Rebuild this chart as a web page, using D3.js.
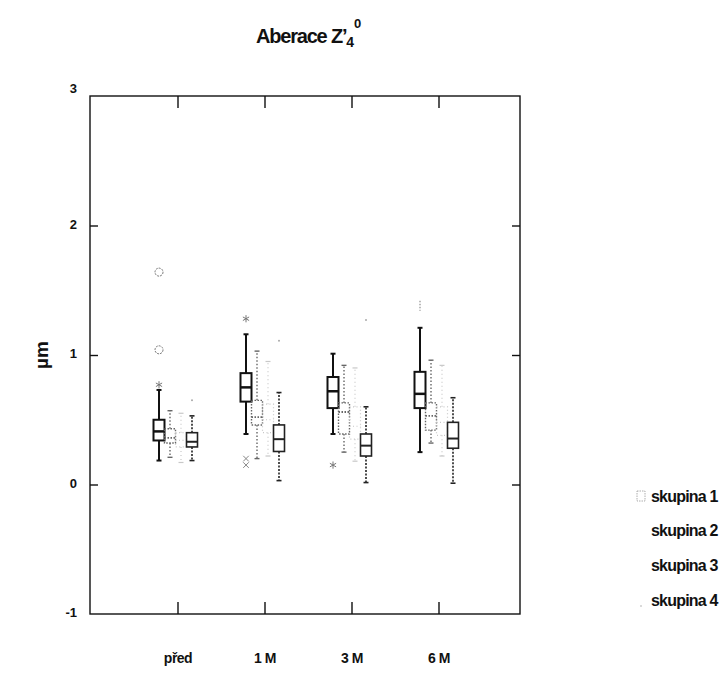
<!DOCTYPE html>
<html>
<head>
<meta charset="utf-8">
<script src="https://cdn.jsdelivr.net/npm/d3@7"></script>
<style>
  html, body { margin: 0; padding: 0; background: #fff; }
  svg { display: block; font-family: "Liberation Sans", Arial, sans-serif; }
</style>
</head>
<body>
<svg id="chart" width="724" height="674"></svg>
<script>
// ---- data ----
const categories = ["před", "1 M", "3 M", "6 M"];
const groups = ["skupina 1", "skupina 2", "skupina 3", "skupina 4"];
const yTicks = [-1, 0, 1, 2, 3];
// [whisker low, Q1, median, Q3, whisker high] per category
const skupina1 = [[0.185, 0.34, 0.41, 0.50, 0.73], [0.39, 0.64, 0.75, 0.86, 1.16], [0.39, 0.59, 0.72, 0.83, 1.01], [0.25, 0.59, 0.70, 0.87, 1.21]];
const skupina2 = [[0.21, 0.32, 0.36, 0.43, 0.57], [0.20, 0.46, 0.52, 0.65, 1.03], [0.25, 0.39, 0.56, 0.63, 0.92], [0.32, 0.42, 0.53, 0.63, 0.96]];
const skupina3 = [[0.17, 0.29, 0.34, 0.40, 0.55], [0.22, 0.40, 0.50, 0.62, 0.95], [0.18, 0.35, 0.45, 0.60, 0.90], [0.22, 0.38, 0.48, 0.60, 0.92]];
const skupina4 = [[0.185, 0.29, 0.33, 0.40, 0.53], [0.03, 0.255, 0.35, 0.46, 0.71], [0.015, 0.22, 0.30, 0.39, 0.60], [0.01, 0.28, 0.355, 0.48, 0.67]];
// outliers: [category index, value, marker]
const outliers1 = [[0, 1.64, "o"], [0, 1.04, "o"], [0, 0.77, "*"], [1, 1.28, "*"], [1, 0.20, "x"], [1, 0.15, "x"], [2, 0.15, "*"], [3, 1.38, "|"]];
const outliers4 = [[0, 0.65, "."], [1, 1.11, "."], [2, 1.27, "."]];

const series = [skupina1, skupina2, skupina3, skupina4];
const outlierSets = [outliers1, [], [], outliers4];
const styles = [
  { stroke: "#111", width: 2, dash: null, wdash: null, med: 2.5 },
  { stroke: "#666", width: 1.4, dash: "1.5,1.5", wdash: "1.5,2", med: 1.8 },
  { stroke: "#c8c8c8", width: 1.2, dash: "1,2.5", wdash: "1,3", med: 1.2 },
  { stroke: "#222", width: 1.6, dash: null, wdash: "2,1.5", med: 2 }
];

// ---- layout ----
const svg = d3.select("#chart");
const L = 90, R = 520, T = 96, B = 614;

const y = d3.scaleLinear().domain([-1, 3]).range([B, T]);
const x = d3.scaleBand().domain(categories).range([134.5, 482.5]).padding(0);
const xg = d3.scaleBand().domain(groups).range([-24.5, 19.5]).padding(0);
const bw = xg.bandwidth();

// frame
svg.append("rect").attr("x", L).attr("y", T).attr("width", R - L).attr("height", B - T)
  .attr("fill", "none").attr("stroke", "#111").attr("stroke-width", 1.4);

// y axis left (ticks inward)
const yAxisL = svg.append("g").attr("transform", `translate(${L},0)`)
  .call(d3.axisLeft(y).tickValues(yTicks).tickSize(-8).tickPadding(13).tickFormat(d => String(d)));
yAxisL.select(".domain").remove();
yAxisL.selectAll(".tick line").attr("stroke", "#111").attr("stroke-width", 1.4)
  .filter(d => d === -1 || d === 3).remove();
yAxisL.selectAll(".tick text").attr("font-size", 13).attr("font-weight", "bold").attr("fill", "#111")
  .attr("dy", d => d === 3 ? "-0.3em" : "0.2em");

const yAxisR = svg.append("g").attr("transform", `translate(${R},0)`)
  .call(d3.axisRight(y).tickValues(yTicks).tickSize(-8).tickFormat(""));
yAxisR.select(".domain").remove();
yAxisR.selectAll(".tick line").attr("stroke", "#111").attr("stroke-width", 1.4)
  .filter(d => d === -1 || d === 3).remove();

// x axis bottom/top (ticks inward)
const xAxisB = svg.append("g").attr("transform", `translate(0,${B})`)
  .call(d3.axisBottom(x).tickSize(-12).tickPadding(39));
xAxisB.select(".domain").remove();
xAxisB.selectAll(".tick line").attr("stroke", "#111").attr("stroke-width", 1.4);
xAxisB.selectAll(".tick text").attr("font-size", 14).attr("font-weight", "bold").attr("fill", "#111")
  .attr("letter-spacing", "-0.5");

const xAxisT = svg.append("g").attr("transform", `translate(0,${T})`)
  .call(d3.axisTop(x).tickSize(-12).tickFormat(""));
xAxisT.select(".domain").remove();
xAxisT.selectAll(".tick line").attr("stroke", "#111").attr("stroke-width", 1.4);

// boxes
series.forEach((data, gi) => {
  const st = styles[gi];
  const g = svg.append("g");
  data.forEach((q, ci) => {
    const cx = x(categories[ci]) + x.bandwidth() / 2 + xg(groups[gi]) + bw / 2;
    const x0 = cx - bw / 2;
    g.append("line").attr("x1", cx).attr("x2", cx).attr("y1", y(q[3])).attr("y2", y(q[4]))
      .attr("stroke", st.stroke).attr("stroke-width", st.width).attr("stroke-dasharray", st.wdash);
    g.append("line").attr("x1", cx).attr("x2", cx).attr("y1", y(q[1])).attr("y2", y(q[0]))
      .attr("stroke", st.stroke).attr("stroke-width", st.width).attr("stroke-dasharray", st.wdash);
    [q[0], q[4]].forEach(v => {
      g.append("line").attr("x1", cx - 2.5).attr("x2", cx + 2.5).attr("y1", y(v)).attr("y2", y(v))
        .attr("stroke", st.stroke).attr("stroke-width", st.width);
    });
    g.append("rect").attr("x", x0).attr("y", y(q[3])).attr("width", bw).attr("height", y(q[1]) - y(q[3]))
      .attr("fill", "none").attr("stroke", st.stroke).attr("stroke-width", st.width)
      .attr("stroke-dasharray", st.dash);
    g.append("line").attr("x1", x0).attr("x2", x0 + bw).attr("y1", y(q[2])).attr("y2", y(q[2]))
      .attr("stroke", st.stroke).attr("stroke-width", st.med).attr("stroke-dasharray", st.dash);
  });
  outlierSets[gi].forEach(([ci, v, m]) => {
    const cx = x(categories[ci]) + x.bandwidth() / 2 + xg(groups[gi]) + bw / 2;
    const cy = y(v);
    if (m === "o") {
      g.append("circle").attr("cx", cx).attr("cy", cy).attr("r", 4)
        .attr("fill", "none").attr("stroke", "#777").attr("stroke-width", 1).attr("stroke-dasharray", "2,1");
    } else if (m === "*") {
      g.append("path").attr("transform", `translate(${cx},${cy})`)
        .attr("d", d3.symbol(d3.symbolAsterisk, 36)())
        .attr("fill", "none").attr("stroke", "#777").attr("stroke-width", 1);
    } else if (m === "x") {
      g.append("path").attr("transform", `translate(${cx},${cy})`)
        .attr("d", d3.symbol(d3.symbolX, 22)())
        .attr("fill", "none").attr("stroke", "#888").attr("stroke-width", 1);
    } else if (m === "|") {
      g.append("line").attr("x1", cx).attr("x2", cx).attr("y1", cy - 5).attr("y2", cy + 5)
        .attr("stroke", "#777").attr("stroke-width", 1).attr("stroke-dasharray", "1.5,1.5");
    } else {
      g.append("circle").attr("cx", cx).attr("cy", cy).attr("r", 1)
        .attr("fill", "#aaa");
    }
  });
});

// title
const title = svg.append("text").attr("x", 256).attr("y", 43)
  .attr("font-size", 20).attr("font-weight", "bold").attr("fill", "#111").attr("letter-spacing", "-1.2");
title.append("tspan").text("Aberace Z\u2019");
title.append("tspan").attr("font-size", 14).attr("dy", 4).attr("dx", 0).text("4");
title.append("tspan").attr("font-size", 13).attr("dy", -19).attr("dx", 1).text("0");

// y axis label
svg.append("text").attr("transform", "translate(48,355) rotate(-90)")
  .attr("text-anchor", "middle").attr("font-size", 19).attr("font-weight", "bold").attr("fill", "#111")
  .text("µm");

// legend
const leg = svg.append("g");
groups.forEach((gname, i) => {
  const ly = 496 + i * 34.7;
  leg.append("text").attr("x", 651).attr("y", ly).attr("dy", "0.35em")
    .attr("font-size", 16).attr("font-weight", "bold").attr("fill", "#111").attr("letter-spacing", "-0.8")
    .text(gname);
});
leg.append("rect").attr("x", 637).attr("y", 491).attr("width", 8).attr("height", 10)
  .attr("fill", "none").attr("stroke", "#999").attr("stroke-width", 0.8).attr("stroke-dasharray", "1.5,1");
leg.append("circle").attr("cx", 641).attr("cy", 606).attr("r", 0.8).attr("fill", "#aaa");
</script>
</body>
</html>
